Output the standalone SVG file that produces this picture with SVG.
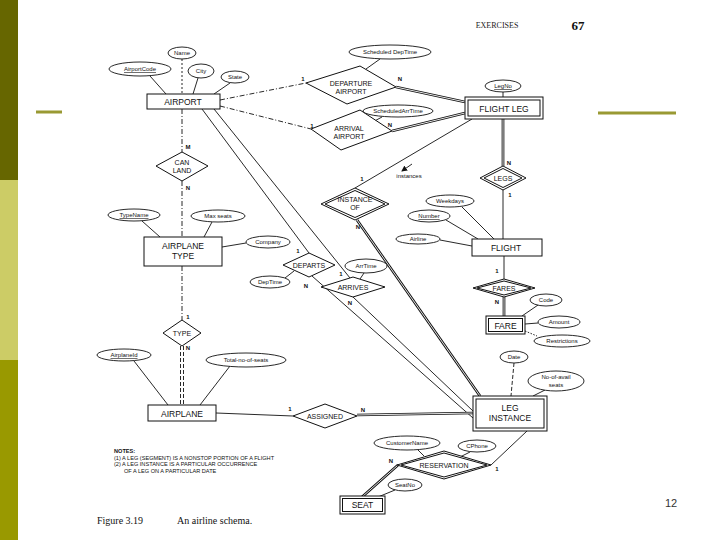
<svg xmlns="http://www.w3.org/2000/svg" width="720" height="540" viewBox="0 0 720 540">
<style>
.ent{fill:#fff;stroke:#111;stroke-width:1}
.rel{fill:#fff;stroke:#111;stroke-width:1}
.att{fill:#fff;stroke:#111;stroke-width:0.9}
.t{font-family:"Liberation Sans",Arial,sans-serif;font-size:7px;fill:#111;text-anchor:middle}
.te{font-family:"Liberation Sans",Arial,sans-serif;font-size:8.5px;fill:#111;text-anchor:middle}
.ta{font-family:"Liberation Sans",Arial,sans-serif;font-size:6px;fill:#111;text-anchor:middle}
.c{font-family:"Liberation Sans",Arial,sans-serif;font-size:6px;font-weight:bold;fill:#111;text-anchor:middle}
.ln{stroke:#111;stroke-width:0.9;fill:none}
.dl{stroke:#111;stroke-width:0.9;fill:none;stroke-dasharray:4 2}
.dd{stroke:#111;stroke-width:0.9;fill:none;stroke-dasharray:5 2 1 2}
.d1{stroke:#111;stroke-width:2.7;fill:none}
.d2{stroke:#fff;stroke-width:0.9;fill:none}
.u{text-decoration:underline}
</style>
<defs>
<marker id="ah" markerWidth="6" markerHeight="6" refX="5" refY="3" orient="auto" markerUnits="userSpaceOnUse">
<path d="M0,0 L6,3 L0,6 z" fill="#111"/>
</marker>
</defs>
<rect width="720" height="540" fill="#fff"/>
<g id="slide">
<rect x="0" y="0" width="18" height="180" fill="#666600"/>
<rect x="0" y="180" width="18" height="180" fill="#cccc66"/>
<rect x="0" y="360" width="18" height="180" fill="#999900"/>
<line x1="36" y1="112" x2="62" y2="112" stroke="#999933" stroke-width="3"/>
<line x1="598" y1="113" x2="676" y2="113" stroke="#999933" stroke-width="3"/>
<text x="497" y="28" font-family="Liberation Serif,serif" font-size="8" text-anchor="middle" fill="#222">EXERCISES</text>
<text x="578" y="30" font-family="Liberation Serif,serif" font-size="13" font-weight="bold" text-anchor="middle" fill="#111">67</text>
<text x="671" y="507" font-family="Liberation Sans,sans-serif" font-size="11" text-anchor="middle" fill="#333">12</text>
<text x="97" y="524" font-family="Liberation Serif,serif" font-size="10" fill="#111">Figure 3.19</text>
<text x="177" y="524" font-family="Liberation Serif,serif" font-size="10" fill="#111">An airline schema.</text>
</g>
<g id="notes" font-family="Liberation Sans,sans-serif" font-size="5.6" fill="#111">
<text x="114" y="453" font-weight="bold">NOTES:</text>
<text x="114" y="459.5">(1) A LEG (SEGMENT) IS A NONSTOP PORTION OF A FLIGHT</text>
<text x="114" y="466">(2) A LEG INSTANCE IS A PARTICULAR OCCURRENCE</text>
<text x="124" y="472.5">OF A LEG ON A PARTICULAR DATE</text>
</g>
<g id="connectors">
<line class="ln" x1="150" y1="76" x2="166" y2="94"/>
<line class="ln" x1="182" y1="59" x2="182" y2="94" stroke-dasharray="2 2"/>
<line class="ln" x1="198" y1="78" x2="193" y2="94"/>
<line class="ln" x1="230" y1="83" x2="214" y2="94"/>
<line class="dd" x1="220" y1="100" x2="306" y2="83"/>
<line class="dd" x1="220" y1="106" x2="311" y2="129"/>
<line class="d1" x1="396" y1="87" x2="465" y2="102"/><line class="d2" x1="396" y1="87" x2="465" y2="102"/>
<line class="d1" x1="392" y1="131" x2="465" y2="113"/><line class="d2" x1="392" y1="131" x2="465" y2="113"/>
<line class="ln" x1="380" y1="59" x2="366" y2="69"/>
<line class="ln" x1="382" y1="117" x2="369" y2="124"/>
<line class="ln" x1="503" y1="92" x2="503" y2="97"/>
<line class="d1" x1="503" y1="119" x2="503" y2="166"/><line class="d2" x1="503" y1="119" x2="503" y2="166"/>
<line class="ln" x1="503" y1="190" x2="503" y2="239"/>
<line class="ln" x1="472" y1="119" x2="355" y2="188"/>
<line class="ln" x1="412" y1="164" x2="402" y2="171" marker-end="url(#ah)"/>
<line class="d1" x1="357" y1="220" x2="480" y2="396"/><line class="d2" x1="357" y1="220" x2="480" y2="396"/>
<line class="dd" x1="182" y1="109" x2="182" y2="152"/>
<line class="dd" x1="182" y1="181" x2="182" y2="237"/>
<line class="dd" x1="182" y1="266" x2="182" y2="320"/>
<line class="dl" x1="180.5" y1="346" x2="180.5" y2="405"/>
<line class="dl" x1="183.5" y1="346" x2="183.5" y2="405"/>
<line class="ln" x1="142" y1="221" x2="160" y2="237"/>
<line class="ln" x1="212" y1="222" x2="204" y2="237"/>
<line class="ln" x1="222" y1="247" x2="246" y2="243"/>
<line class="ln" x1="202" y1="109" x2="309" y2="253"/>
<line class="ln" x1="214" y1="109" x2="350" y2="278"/>
<line class="ln" x1="285" y1="278" x2="294" y2="271"/>
<line class="ln" x1="364" y1="273" x2="360" y2="279"/>
<line class="ln" x1="312" y1="276" x2="473" y2="418"/>
<line class="ln" x1="353" y1="297" x2="473" y2="411"/>
<line class="ln" x1="462" y1="207" x2="494" y2="239"/>
<line class="ln" x1="446" y1="220" x2="478" y2="239"/>
<line class="ln" x1="440" y1="240" x2="472" y2="246"/>
<line class="ln" x1="504" y1="256" x2="504" y2="279"/>
<line class="d1" x1="504" y1="297" x2="504" y2="316"/><line class="d2" x1="504" y1="297" x2="504" y2="316"/>
<line class="ln" x1="538" y1="305" x2="522" y2="316"/>
<line class="ln" x1="525" y1="324" x2="538" y2="323"/>
<line class="ln" x1="525" y1="331" x2="537" y2="336" stroke-dasharray="1.5 1.5"/>
<line class="dl" x1="514" y1="363" x2="511" y2="396"/>
<line class="ln" x1="545" y1="390" x2="533" y2="396"/>
<line class="ln" x1="134" y1="361" x2="168" y2="405"/>
<line class="ln" x1="230" y1="366" x2="200" y2="405"/>
<line class="ln" x1="216" y1="413" x2="293" y2="416"/>
<line class="d1" x1="357" y1="415" x2="473" y2="413"/><line class="d2" x1="357" y1="415" x2="473" y2="413"/>
<line class="ln" x1="527" y1="431" x2="491" y2="465"/>
<line class="d1" x1="398" y1="465" x2="362" y2="497" stroke-width="3.2"/><line class="d2" x1="398" y1="465" x2="362" y2="497" stroke-width="0.8"/>
<line class="ln" x1="418" y1="450" x2="424" y2="456"/>
<line class="ln" x1="470" y1="452" x2="460" y2="457"/>
<line class="ln" x1="395" y1="490" x2="378" y2="497"/>
</g>
<g id="labels">
<text class="c" x="303" y="81">1</text>
<text class="c" x="400" y="81">N</text>
<text class="c" x="312" y="128">1</text>
<text class="c" x="390" y="127">N</text>
<text class="c" x="188" y="149">M</text>
<text class="c" x="188" y="190">N</text>
<text class="c" x="509" y="165">N</text>
<text class="c" x="510" y="197">1</text>
<text class="c" x="362" y="181">1</text>
<text class="c" x="358" y="229">N</text>
<text class="ta" x="409" y="178">instances</text>
<text class="c" x="298" y="253">1</text>
<text class="c" x="306" y="288">N</text>
<text class="c" x="341" y="276">1</text>
<text class="c" x="350" y="305">N</text>
<text class="c" x="497" y="273">1</text>
<text class="c" x="497" y="304">N</text>
<text class="c" x="188" y="319">1</text>
<text class="c" x="188" y="350">N</text>
<text class="c" x="290" y="411">1</text>
<text class="c" x="363" y="412">N</text>
<text class="c" x="391" y="463">N</text>
<text class="c" x="497" y="471">1</text>
</g>
<g id="airport"><rect class="ent" x="147" y="94" width="73" height="15"/><text class="te" x="183" y="105">AIRPORT</text></g>
<g id="flight-leg"><rect class="ent" x="465" y="97" width="78" height="22" stroke-width="1.3"/><rect class="ent" x="468" y="100" width="72" height="16"/><text class="te" x="504" y="111.5">FLIGHT LEG</text></g>
<g id="airplane-type"><rect class="ent" x="144" y="237" width="78" height="29"/><text class="te" x="183" y="249">AIRPLANE</text><text class="te" x="183" y="259">TYPE</text></g>
<g id="flight"><rect class="ent" x="472" y="239" width="70" height="17"/><text class="te" x="506" y="251">FLIGHT</text></g>
<g id="fare"><rect class="ent" x="486" y="316" width="39" height="18" stroke-width="1.3"/><rect class="ent" x="488.5" y="318.5" width="34" height="13"/><text class="te" x="505.5" y="328.5">FARE</text></g>
<g id="airplane"><rect class="ent" x="148" y="405" width="68" height="16"/><text class="te" x="182" y="416.5">AIRPLANE</text></g>
<g id="leg-instance"><rect class="ent" x="473" y="396" width="74" height="35" stroke-width="1.3"/><rect class="ent" x="476" y="399" width="68" height="29"/><text class="te" x="510" y="411">LEG</text><text class="te" x="510" y="421">INSTANCE</text></g>
<g id="seat"><rect class="ent" x="340" y="496" width="45" height="18" stroke-width="1.3"/><rect class="ent" x="342.5" y="498.5" width="40" height="13"/><text class="te" x="362.5" y="508">SEAT</text></g>
<g id="departure-airport"><polygon class="rel" points="306,83 360,66 396,87 347,104"/><text class="t" x="351" y="86">DEPARTURE</text><text class="t" x="351" y="94">AIRPORT</text></g>
<g id="arrival-airport"><polygon class="rel" points="311,129 360,110 392,131 341,150"/><text class="t" x="349" y="131">ARRIVAL</text><text class="t" x="349" y="139">AIRPORT</text></g>
<g id="can-land"><polygon class="rel" points="156,166 182,152 208,166 182,181"/><text class="t" x="182" y="165">CAN</text><text class="t" x="182" y="173">LAND</text></g>
<g id="legs"><polygon class="rel" points="480,178 503,166 526,178 503,190"/><polygon class="rel" points="484,178 503,168.5 522,178 503,187.5"/><text class="t" x="503" y="180.5">LEGS</text></g>
<g id="instance-of"><polygon class="rel" points="321,204 355,188 389,204 355,220"/><polygon class="rel" points="325,204 355,190.5 385,204 355,217.5"/><text class="t" x="355" y="202">INSTANCE</text><text class="t" x="355" y="210">OF</text></g>
<g id="departs"><polygon class="rel" points="283,265 309,253 335,265 309,277"/><text class="t" x="309" y="267.5">DEPARTS</text></g>
<g id="arrives"><polygon class="rel" points="321,287 353,277 385,287 353,297"/><text class="t" x="353" y="289.5">ARRIVES</text></g>
<g id="fares"><polygon class="rel" points="473,288 504,279 535,288 504,297"/><polygon class="rel" points="477,288 504,281 531,288 504,295"/><text class="t" x="504" y="290.5">FARES</text></g>
<g id="type"><polygon class="rel" points="163,333 182,320 201,333 182,346"/><text class="t" x="182" y="335.5">TYPE</text></g>
<g id="assigned"><polygon class="rel" points="293,416 325,404 357,416 325,428"/><text class="t" x="325" y="418.5">ASSIGNED</text></g>
<g id="reservation"><polygon class="rel" points="397,465 444,451 491,465 444,479"/><polygon class="rel" points="401,465 444,453 487,465 444,477"/><text class="t" x="444" y="467.5">RESERVATION</text></g>
<g id="attributes">
<g id="a-airportcode"><ellipse class="att" cx="140" cy="69" rx="31" ry="7"/><text class="ta u" x="140" y="71">AirportCode</text></g>
<g id="a-name"><ellipse class="att" cx="182" cy="53" rx="14" ry="6"/><text class="ta" x="182" y="55">Name</text></g>
<g id="a-city"><ellipse class="att" cx="201" cy="71" rx="13" ry="7"/><text class="ta" x="201" y="73">City</text></g>
<g id="a-state"><ellipse class="att" cx="235" cy="77" rx="14" ry="6"/><text class="ta" x="235" y="79">State</text></g>
<g id="a-scheddep"><ellipse class="att" cx="390" cy="52" rx="41" ry="7"/><text class="ta" x="390" y="54">Scheduled DepTime</text></g>
<g id="a-schedarr"><ellipse class="att" cx="398" cy="111" rx="35" ry="6"/><text class="ta" x="398" y="113">ScheduledArrTime</text></g>
<g id="a-legno"><ellipse class="att" cx="503" cy="86" rx="18" ry="6"/><text class="ta u" x="503" y="88">LegNo</text></g>
<g id="a-typename"><ellipse class="att" cx="134" cy="215" rx="26" ry="6"/><text class="ta u" x="134" y="217">TypeName</text></g>
<g id="a-maxseats"><ellipse class="att" cx="218" cy="216" rx="27" ry="6"/><text class="ta" x="218" y="218">Max seats</text></g>
<g id="a-company"><ellipse class="att" cx="268" cy="242" rx="22" ry="6"/><text class="ta" x="268" y="244">Company</text></g>
<g id="a-deptime"><ellipse class="att" cx="270" cy="282" rx="20" ry="6"/><text class="ta" x="270" y="284">DepTime</text></g>
<g id="a-arrtime"><ellipse class="att" cx="366" cy="266" rx="21" ry="7"/><text class="ta" x="366" y="268">ArrTime</text></g>
<g id="a-weekdays"><ellipse class="att" cx="450" cy="201" rx="24" ry="6"/><text class="ta" x="450" y="203">Weekdays</text></g>
<g id="a-number"><ellipse class="att" cx="429" cy="216" rx="21" ry="6"/><text class="ta u" x="429" y="218">Number</text></g>
<g id="a-airline"><ellipse class="att" cx="418" cy="239" rx="22" ry="5"/><text class="ta" x="418" y="241">Airline</text></g>
<g id="a-code"><ellipse class="att" cx="546" cy="300" rx="16" ry="6"/><text class="ta" x="546" y="302">Code</text></g>
<g id="a-amount"><ellipse class="att" cx="559" cy="322" rx="21" ry="6"/><text class="ta" x="559" y="324">Amount</text></g>
<g id="a-restrictions"><ellipse class="att" cx="562" cy="341" rx="28" ry="6"/><text class="ta" x="562" y="343">Restrictions</text></g>
<g id="a-date"><ellipse class="att" cx="514" cy="357" rx="14" ry="6"/><text class="ta" x="514" y="359">Date</text></g>
<g id="a-noofavail"><ellipse class="att" cx="556" cy="381" rx="28" ry="10"/><text class="ta" x="556" y="379">No-of-avail</text><text class="ta" x="556" y="386.5">seats</text></g>
<g id="a-airplaneid"><ellipse class="att" cx="124" cy="355" rx="27" ry="6"/><text class="ta u" x="124" y="357">AirplaneId</text></g>
<g id="a-totalseats"><ellipse class="att" cx="246" cy="360" rx="40" ry="7"/><text class="ta" x="246" y="362">Total-no-of-seats</text></g>
<g id="a-customername"><ellipse class="att" cx="407" cy="443" rx="33" ry="7"/><text class="ta" x="407" y="445">CustomerName</text></g>
<g id="a-cphone"><ellipse class="att" cx="477" cy="446" rx="19" ry="6"/><text class="ta" x="477" y="448">CPhone</text></g>
<g id="a-seatno"><ellipse class="att" cx="405" cy="485" rx="17" ry="6"/><text class="ta" x="405" y="487">SeatNo</text></g>
</g>
</svg>
